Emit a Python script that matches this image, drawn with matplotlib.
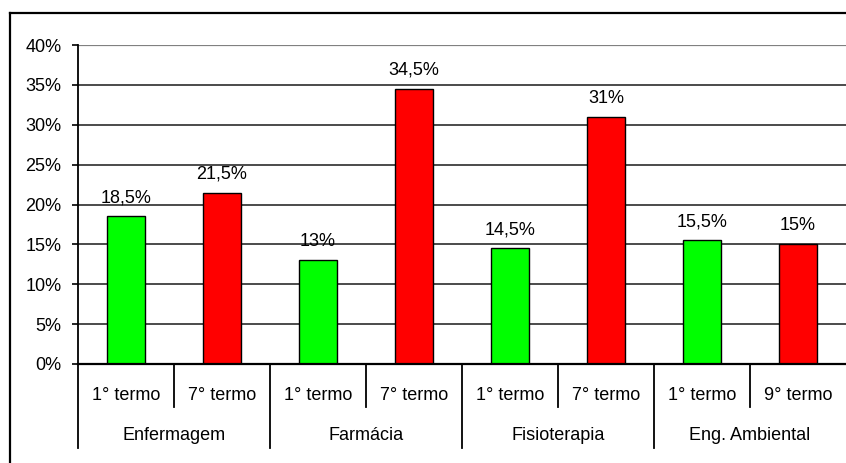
import matplotlib
matplotlib.use("Agg")
import matplotlib.pyplot as plt
from matplotlib.lines import Line2D
from matplotlib.transforms import blended_transform_factory

plt.rcParams['font.family'] = ['Liberation Sans', 'DejaVu Sans']

# Data
courses = ["Enfermagem", "Farmácia", "Fisioterapia", "Eng. Ambiental"]
terms = ["1° termo", "7° termo", "1° termo", "7° termo",
         "1° termo", "7° termo", "1° termo", "9° termo"]
values = [18.5, 21.5, 13, 34.5, 14.5, 31, 15.5, 15]
value_labels = ["18,5%", "21,5%", "13%", "34,5%", "14,5%", "31%", "15,5%", "15%"]
bar_colors = ["#00FF00", "#FF0000"] * 4
y_ticks = [0, 5, 10, 15, 20, 25, 30, 35, 40]
y_tick_labels = [f"{t}%" for t in y_ticks]

FS = 13
W, H = 846, 463
fig = plt.figure(figsize=(W / 100, H / 100), dpi=100)
ax_left, ax_right, ax_top, ax_bottom = 78, 846, 45, 364
ax = fig.add_axes([ax_left / W, 1 - ax_bottom / H,
                   (ax_right - ax_left) / W, (ax_bottom - ax_top) / H])

x = [i + 0.5 for i in range(len(values))]
ax.bar(x, values, width=0.4, color=bar_colors, edgecolor="black",
       linewidth=1.0, zorder=3)

for xi, v, lab in zip(x, values, value_labels):
    ax.annotate(lab, (xi, v), xytext=(0, 10), textcoords="offset points",
                ha="center", va="baseline", fontsize=FS, color="black")

ax.set_xlim(0, len(values))
ax.set_ylim(0, 40)
ax.set_yticks(y_ticks)
ax.set_yticklabels(y_tick_labels, fontsize=FS)
ax.tick_params(axis="y", direction="out", length=4, width=1.2, pad=8,
               colors="black")
ax.set_xticks([])

# Horizontal gridlines
for t in y_ticks[1:-1]:
    ax.axhline(t, color="#1a1a1a", linewidth=1.1, zorder=1)
ax.axhline(40, color="#808080", linewidth=1.6, zorder=1)

for side in ["top", "right"]:
    ax.spines[side].set_visible(False)
ax.spines["left"].set_linewidth(1.3)
ax.spines["bottom"].set_linewidth(1.6)
ax.spines["left"].set_zorder(4)
ax.spines["bottom"].set_zorder(4)

# Two-level category axis
px_h = ax_bottom - ax_top
trans = blended_transform_factory(ax.transData, ax.transAxes)
inner_end = -(407 - ax_bottom) / px_h
outer_end = -(448 - ax_bottom) / px_h
inner_y = -(395 - ax_bottom) / px_h
outer_y = -(435 - ax_bottom) / px_h

for i in range(len(values)):
    end = outer_end if i % 2 == 0 else inner_end
    ax.add_line(Line2D([i, i], [0, end], transform=trans, color="black",
                       linewidth=1.3, clip_on=False))

for xi, t in zip(x, terms):
    ax.text(xi, inner_y, t, transform=trans, ha="center", va="center",
            fontsize=FS)

for j, c in enumerate(courses):
    ax.text(2 * j + 1, outer_y, c, transform=trans, ha="center",
            va="center", fontsize=FS)

# Outer chart frame
fx, fy = 10 / W, 1 - 13 / H
fig.add_artist(Line2D([fx, 1.0], [fy, fy], transform=fig.transFigure,
                      color="black", linewidth=1.6))
fig.add_artist(Line2D([fx, fx], [fy, 0.0], transform=fig.transFigure,
                      color="black", linewidth=1.6))

fig.savefig("out.png", dpi=100, facecolor="white")
